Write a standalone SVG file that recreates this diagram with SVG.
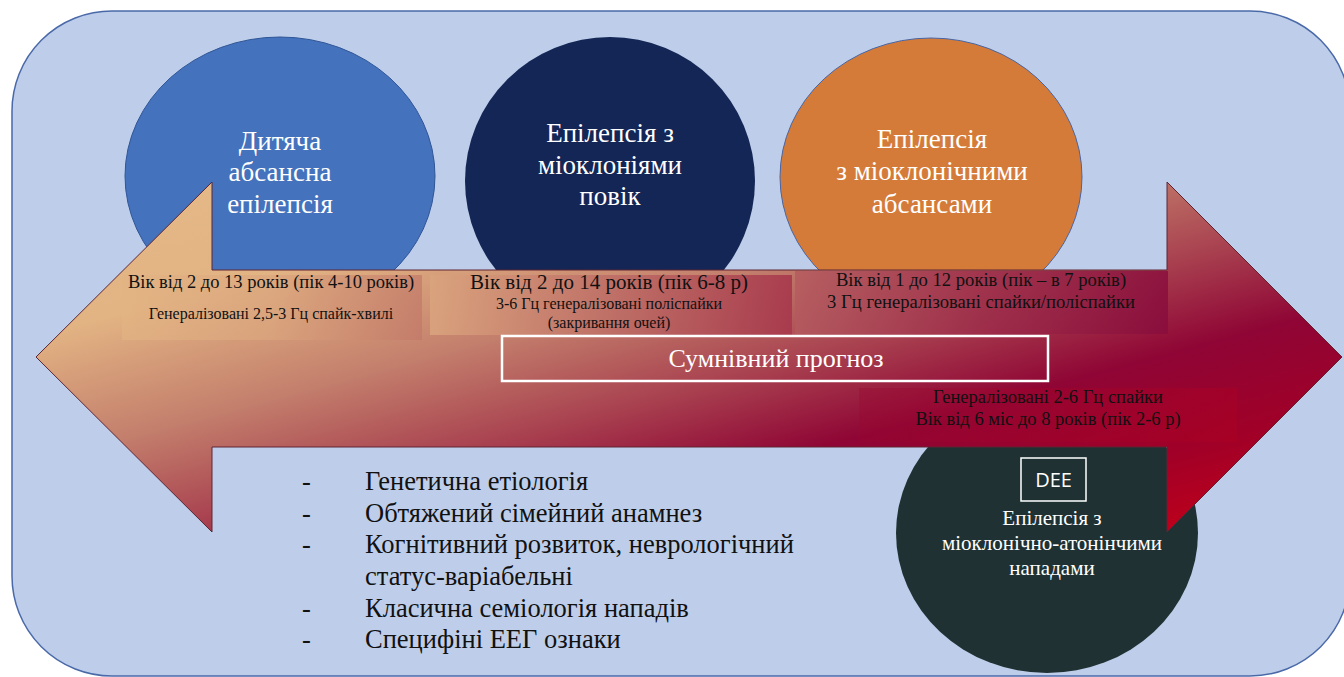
<svg xmlns="http://www.w3.org/2000/svg" width="1344" height="677" viewBox="0 0 1344 677">
<defs>
<linearGradient id="arrowGrad" x1="0" y1="0" x2="1" y2="1">
<stop offset="0" stop-color="#E6BA8A"/>
<stop offset="0.22" stop-color="#E2B383"/>
<stop offset="0.4" stop-color="#C37E6C"/>
<stop offset="0.55" stop-color="#A8404F"/>
<stop offset="0.68" stop-color="#8F0535"/>
<stop offset="0.82" stop-color="#A00028"/>
<stop offset="1" stop-color="#CC0015"/>
</linearGradient>
<linearGradient id="box1" x1="0" y1="0" x2="1" y2="0">
<stop offset="0" stop-color="#E2B383"/>
<stop offset="0.5" stop-color="#DBA67E"/>
<stop offset="1" stop-color="#C27868"/>
</linearGradient>
<linearGradient id="box2" x1="0" y1="0" x2="1" y2="0">
<stop offset="0" stop-color="#DAA47E"/>
<stop offset="0.5" stop-color="#BE6E66"/>
<stop offset="1" stop-color="#A7384C"/>
</linearGradient>
<linearGradient id="box3" x1="0" y1="0" x2="1" y2="0">
<stop offset="0" stop-color="#B45A5F"/>
<stop offset="0.5" stop-color="#9C2C4A"/>
<stop offset="1" stop-color="#880C3C"/>
</linearGradient>
<linearGradient id="box4" x1="0" y1="0" x2="1" y2="0">
<stop offset="0" stop-color="#98062F"/>
<stop offset="1" stop-color="#B20020"/>
</linearGradient>
<style>
.title{font-family:"Liberation Serif","Times New Roman",serif;font-size:27px;fill:#FFFFFF;text-anchor:middle;}
.lbl{font-family:"Liberation Serif","Times New Roman",serif;fill:#111111;text-anchor:middle;}
.bul{font-family:"Liberation Serif","Times New Roman",serif;font-size:26.5px;fill:#111111;}
.dee{font-family:"Liberation Serif","Times New Roman",serif;font-size:21px;fill:#FFFFFF;text-anchor:middle;}
</style>
</defs>

<rect id="background" x="12" y="11" width="1338" height="665" rx="100" ry="100" fill="#BECEEA" stroke="#4A69A8" stroke-width="1.5"/>

<g id="node-childhood-absence">
<ellipse cx="280" cy="176" rx="155" ry="139" fill="#4472BC" stroke="#2F5597" stroke-width="1"/>
</g>
<g id="node-eyelid-myoclonia">
<ellipse cx="610" cy="181" rx="145" ry="144" fill="#132655"/>
</g>
<g id="node-myoclonic-absences">
<ellipse cx="931" cy="177" rx="151" ry="139" fill="#D47B3A" stroke="#4A64A0" stroke-width="1"/>
</g>
<g id="node-dee">
<ellipse cx="1047" cy="533" rx="151" ry="140" fill="#1F3133"/>
</g>

<g id="connectors">
<polygon points="36,357 212,182 212,270 1167,270 1167,182 1342,357 1167,532 1167,447 212,447 212,532" fill="url(#arrowGrad)" stroke="#5E2432" stroke-width="1"/>
</g>

<g id="labels-on-arrow">
<rect x="122" y="275" width="300" height="65" fill="url(#box1)" opacity="0.7"/>
<rect x="430" y="275" width="362" height="60" fill="url(#box2)" opacity="0.9"/>
<rect x="795" y="271" width="373" height="63" fill="url(#box3)" opacity="0.8"/>
<rect x="859" y="388" width="378" height="54" fill="url(#box4)" opacity="0.35"/>
</g>

<g id="titles">
<text class="title" x="280" y="150">Дитяча</text>
<text class="title" x="280" y="181">абсансна</text>
<text class="title" x="280" y="213">епілепсія</text>
<text class="title" x="610" y="142">Епілепсія з</text>
<text class="title" x="610" y="174">міоклоніями</text>
<text class="title" x="610" y="205">повік</text>
<text class="title" x="932" y="148">Епілепсія</text>
<text class="title" x="932" y="180">з міоклонічними</text>
<text class="title" x="932" y="213">абсансами</text>
</g>

<g id="label-cae">
<text class="lbl" x="271" y="288" font-size="18.5">Вік від 2 до 13 років (пік 4-10 років)</text>
<text class="lbl" x="271" y="319" font-size="16">Генералізовані 2,5-3 Гц спайк-хвилі</text>
</g>
<g id="label-em">
<text class="lbl" x="609" y="289" font-size="21">Вік від 2 до 14 років (пік 6-8 р)</text>
<text class="lbl" x="609" y="309" font-size="16">3-6 Гц генералізовані поліспайки</text>
<text class="lbl" x="609" y="328" font-size="16">(закривання очей)</text>
</g>
<g id="label-ema">
<text class="lbl" x="981" y="286" font-size="18.6">Вік від 1 до 12 років (пік – в 7 років)</text>
<text class="lbl" x="981" y="308" font-size="18.6">3 Гц генералізовані спайки/поліспайки</text>
</g>
<g id="label-mae">
<text class="lbl" x="1048" y="403" font-size="18.5">Генералізовані 2-6 Гц спайки</text>
<text class="lbl" x="1048" y="425" font-size="18.5">Вік від 6 міс до 8 років (пік 2-6 р)</text>
</g>

<g id="node-prognosis">
<rect x="502" y="336" width="546" height="45" fill="none" stroke="#FFFFFF" stroke-width="2.5"/>
<text x="776" y="367" font-family="Liberation Serif, Times New Roman, serif" font-size="26" fill="#FFFFFF" text-anchor="middle">Сумнівний прогноз</text>
</g>

<g id="node-dee-text">
<rect x="1021" y="458" width="65" height="43" fill="none" stroke="#FFFFFF" stroke-width="1.5"/>
<text x="1053.5" y="487" font-family="Open Sans, Liberation Sans, sans-serif" font-size="20" fill="#FFFFFF" text-anchor="middle">DEE</text>
<text class="dee" x="1052" y="525">Епілепсія з</text>
<text class="dee" x="1052" y="550">міоклонічно-атонінчими</text>
<text class="dee" x="1052" y="575">нападами</text>
</g>

<g id="features-list">
<text class="bul" x="302" y="490">-</text><text class="bul" x="365" y="490">Генетична етіологія</text>
<text class="bul" x="302" y="522">-</text><text class="bul" x="365" y="522">Обтяжений сімейний анамнез</text>
<text class="bul" x="302" y="553">-</text><text class="bul" x="365" y="553">Когнітивний розвиток, неврологічний</text>
<text class="bul" x="365" y="585">статус-варіабельні</text>
<text class="bul" x="302" y="617">-</text><text class="bul" x="365" y="617">Класична семіологія нападів</text>
<text class="bul" x="302" y="648">-</text><text class="bul" x="365" y="648">Специфіні ЕЕГ ознаки</text>
</g>
</svg>
